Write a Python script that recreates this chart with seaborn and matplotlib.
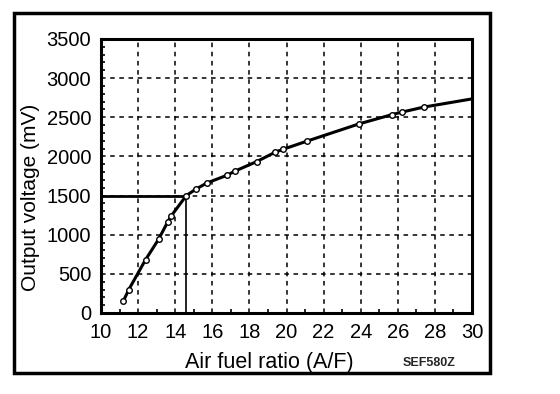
import matplotlib
matplotlib.use("Agg")
import matplotlib.pyplot as plt
import matplotlib.patches as mpatches
from matplotlib.ticker import MultipleLocator
import seaborn as sns
import pandas as pd

# ── data ──
af_ratio = [11.2, 11.5, 12.4, 13.1, 13.6, 13.8, 14.6, 15.1, 15.7,
            16.8, 17.2, 18.4, 19.4, 19.8, 21.1, 23.9, 25.7, 26.2, 27.4, 30.0]
voltage_mv = [150, 300, 680, 940, 1165, 1245, 1500, 1580, 1660,
              1760, 1810, 1935, 2055, 2090, 2195, 2415, 2535, 2565, 2630, 2735]
has_marker = [True] * 19 + [False]   # curve runs on to the edge without a marker

stoich_af = 14.6
stoich_mv = 1500

df = pd.DataFrame({"af": af_ratio, "mv": voltage_mv, "marked": has_marker})

sns.set_theme(style="white")
plt.rcParams["font.family"] = ["Liberation Sans", "DejaVu Sans"]

fig = plt.figure(figsize=(5.6, 3.94), dpi=100)
ax = fig.add_axes([101 / 560, 1 - 313 / 394, 371 / 560, 274 / 394])

# outer border
fig.patches.append(mpatches.Rectangle((14 / 560, 1 - 373 / 394), 476 / 560, 360 / 394,
                                      transform=fig.transFigure, fill=False,
                                      edgecolor="black", linewidth=2.5))

sns.lineplot(data=df, x="af", y="mv", ax=ax, color="black", lw=2.2,
             sort=False, estimator=None)
sns.scatterplot(data=df[df["marked"]], x="af", y="mv", ax=ax, marker="o", s=16,
                facecolor="white", edgecolor="black", linewidth=1.0, zorder=5)

# 14.6 A/F reference lines
ax.plot([10, stoich_af], [stoich_mv, stoich_mv], color="black", lw=2.0, zorder=4)
ax.plot([stoich_af, stoich_af], [0, stoich_mv], color="black", lw=1.2, zorder=4)

ax.set_xlim(10, 30)
ax.set_ylim(0, 3500)
ax.xaxis.set_major_locator(MultipleLocator(2))
ax.xaxis.set_minor_locator(MultipleLocator(1))
ax.yaxis.set_major_locator(MultipleLocator(500))
ax.yaxis.set_minor_locator(MultipleLocator(100))
ax.grid(True, which="major", color="black", linestyle=(0, (3, 3)), lw=1.1)
ax.tick_params(which="major", length=0, labelsize=14.5, pad=7, colors="black")
ax.tick_params(which="minor", direction="in", length=3, width=1.2,
               bottom=True, left=True, color="black")
for s in ax.spines.values():
    s.set_color("black")
    s.set_linewidth(2.2)

ax.set_xlabel("Air fuel ratio (A/F)", fontsize=15.5, color="black")
ax.set_ylabel("Output voltage (mV)", fontsize=15, color="black")
ax.xaxis.set_label_coords(0.455, -0.142)
ax.yaxis.set_label_coords(-0.165, 0.423)
fig.text(403 / 560, 1 - 366 / 394, "SEF580Z", fontsize=9, fontweight="bold",
         ha="left", va="baseline")

plt.savefig("out.png", dpi=100)
